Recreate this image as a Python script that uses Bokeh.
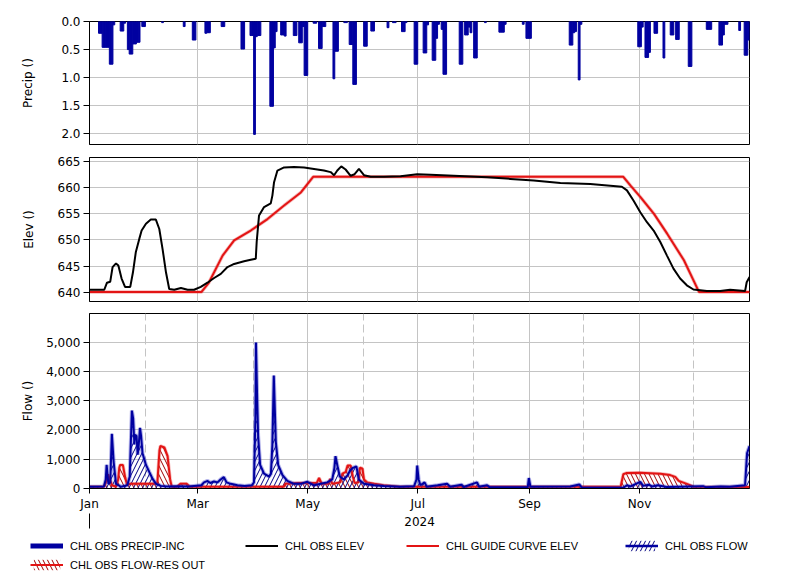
import datetime as dt
from bokeh.plotting import figure
from bokeh.layouts import column
from bokeh.models import (Range1d, MonthsTicker, FixedTicker, DatetimeTickFormatter,
                          NumeralTickFormatter, Grid, DatetimeAxis, Legend, LegendItem,
                          ColumnDataSource)
from bokeh.embed import file_html
from bokeh.resources import INLINE

YEAR_START = dt.datetime(2024, 1, 1)
RANGE_END = dt.datetime(2024, 12, 31, 23, 0)

# ---------------- data (day-of-year offsets from 2024-01-01) ----------------
precip_doy = [5, 6, 7, 8, 9, 10, 11, 12, 13, 17, 18, 19, 21, 22, 23, 24, 25, 26, 27, 29, 30,
              40, 52, 57, 58, 64, 65, 66, 73, 74, 84, 85, 89, 90, 91, 92, 93, 94,
              100, 101, 102, 103, 106, 107, 108, 113, 114, 116, 117, 118, 119, 120,
              124, 125, 127, 128, 129, 130, 135, 136, 137, 141, 142, 144, 145, 146, 147,
              152, 153, 156, 157, 165, 168, 169,
              173, 174, 175, 180, 181, 185, 186, 187, 190, 191, 192, 193, 195, 196, 197,
              205, 206, 208, 209, 210, 211, 213, 214, 219, 227, 228, 229, 230, 240,
              242, 243, 244, 266, 267, 268, 269, 271, 272,
              304, 305, 306, 308, 309, 310, 313, 314, 318, 322, 323, 325, 326, 332, 333,
              342, 343, 344, 349, 350, 351, 352, 353, 360, 363, 364, 365]
precip_in = [0.21, 0.21, 0.46, 0.46, 0.46, 0.46, 0.76, 0.76, 0.06, 0.17, 0.17, 0.03, 0.50, 0.58, 0.58, 0.40, 0.40, 0.37, 0.37, 0.09, 0.09,
             0.02, 0.09, 0.33, 0.33, 0.21, 0.20, 0.20, 0.09, 0.09, 0.49, 0.49, 0.25, 0.25, 2.01, 0.27, 0.25, 0.25,
             1.51, 1.51, 0.47, 0.18, 0.24, 0.24, 0.26, 0.25, 0.25, 0.38, 0.38, 0.09, 0.96, 0.96,
             0.03, 0.03, 0.48, 0.48, 0.09, 0.09, 1.02, 0.53, 0.53, 0.02, 0.02, 0.41, 0.41, 1.12, 1.12,
             0.44, 0.44, 0.17, 0.17, 0.11, 0.02, 0.02,
             0.18, 0.18, 0.02, 0.76, 0.76, 0.56, 0.56, 0.06, 0.69, 0.69, 0.30, 0.05, 0.14, 0.94, 0.94,
             0.76, 0.76, 0.24, 0.24, 0.10, 0.20, 0.65, 0.65, 0.02, 0.19, 0.19, 0.19, 0.05, 0.05,
             0.30, 0.30, 0.30, 0.42, 0.42, 0.20, 0.18, 1.04, 0.05,
             0.45, 0.45, 0.10, 0.64, 0.64, 0.55, 0.21, 0.21, 0.65, 0.24, 0.24, 0.32, 0.32, 0.80, 0.80,
             0.14, 0.14, 0.14, 0.42, 0.42, 0.24, 0.05, 0.05, 0.16, 0.60, 0.60, 0.33]

elev_doy = [0, 8.2, 9.7, 11.5, 12.8, 14.7, 16, 17.8, 19.7, 22.6, 24.1, 25.7, 27.6, 28.9, 31.3, 34, 36.8,
            38.7, 40.5, 42.4, 44.2, 47, 50.7, 54.4, 58, 61.7, 65.4, 69.1, 72.8, 76.5, 80.2, 85.7, 89.4,
            92.2, 92.7, 94, 96.8, 100.5, 101.4, 102.3, 104.2, 107.9, 113.4, 119, 124.5, 130, 133.7,
            135.6, 137.4, 139.6, 142, 144.8, 147, 149.4, 152.2, 155.9, 163.3, 172.5, 181.7, 189.1,
            202, 220.5, 233.4, 246.3, 261.1, 277.7, 288.8, 295.2, 298, 301.7, 305.4, 309.1, 312.8,
            316.5, 320.2, 323.8, 327.5, 331.2, 334.9, 342.3, 349.7, 355.2, 363.5, 364.4, 366]
elev_ft = [640.45, 640.45, 641.8, 642.0, 644.8, 645.5, 645.1, 642.6, 641.0, 641.0, 643.8, 647.7, 650.2,
           651.8, 653.1, 653.9, 653.9, 652.1, 648.3, 643.8, 640.6, 640.45, 640.8, 640.45, 640.45, 641.0,
           641.8, 642.7, 643.5, 644.8, 645.4, 645.9, 646.2, 646.4, 649.6, 654.7, 656.3, 657.0, 658.5,
           661.0, 663.3, 663.9, 664.0, 663.9, 663.6, 663.3, 663.0, 662.4, 663.3, 664.1, 663.5, 662.3,
           662.6, 663.6, 662.4, 662.1, 662.1, 662.2, 662.6, 662.5, 662.3, 662.0, 661.7, 661.4, 660.9,
           660.7, 660.4, 660.2, 659.5, 657.5, 655.3, 653.4, 651.8, 649.6, 647.0, 644.5, 642.6, 641.3,
           640.5, 640.2, 640.2, 640.45, 640.2, 641.9, 642.9]

guide_doy = [0, 62, 66, 73.8, 80.2, 89.4, 98.7, 107.9, 117.2, 124, 296, 300, 305.5, 313, 320.3, 329.6, 338, 366]
guide_ft = [640.0, 640.0, 641.7, 647.0, 649.9, 651.8, 654.0, 656.6, 659.1, 662.1, 662.1, 660.4, 658.2,
            655.0, 651.2, 646.1, 640.0, 640.0]

flow_doy = [0, 8, 9, 9.5, 10.5, 11.5, 12.4, 13.4, 14.7, 17.5, 21, 22.3, 23.5, 24.2, 24.9, 25.2, 26.1,
            26.7, 27.2, 28, 28.6, 29.4, 31.3, 33.2, 35, 36.9, 39.6, 43, 50, 55, 58, 62, 63.5, 65.5, 67,
            69, 71, 72.7, 74.5, 76, 78.3, 82, 86, 90, 91.2, 92, 92.3, 93, 93.5, 94.6, 96.8, 99.6, 100.6,
            101.4, 102.2, 103.3, 104.6, 107, 109.7, 113.4, 117, 120.8, 124.5, 128.2, 131.8, 134.6,
            135.8, 136.4, 137.7, 138.8, 141, 143.2, 144.4, 146.1, 148, 149.3, 152.2, 157.7, 163.3,
            172.5, 176, 180, 181.3, 181.7, 182.5, 183.5, 185.8, 187, 193, 198.3, 200, 206.3, 207.5,
            214.9, 216, 220.5, 222, 243, 243.6, 244.5, 266.6, 271.6, 273, 296, 298, 300, 305.4, 307,
            310, 312, 315, 320, 340.2, 342, 350, 355, 363.5, 364.6, 366]
flow_cfs = [50, 60, 300, 800, 150, 200, 1870, 900, 150, 50, 100, 400, 2665, 2400, 1500, 1830, 1800,
            1150, 1400, 2070, 1800, 1200, 800, 550, 320, 150, 80, 60, 70, 60, 80, 100, 200, 250, 180,
            230, 200, 300, 380, 200, 150, 100, 80, 100, 200, 2500, 5000, 3000, 1800, 800, 500, 400, 500,
            1500, 3870, 1600, 800, 450, 250, 150, 150, 220, 100, 150, 200, 300,
            700, 1100, 700, 400, 300, 450, 600, 700, 750, 300, 150, 100, 80,
            50, 60, 70, 300, 780, 300, 100, 200, 50, 100, 150, 50, 120, 40,
            200, 50, 100, 30, 30, 350, 50, 60, 130, 20, 20, 100, 60, 220, 80,
            120, 60, 100, 40, 70, 30, 60, 50, 100, 1200, 1450]

out_doy = [0, 8, 9.5, 10.3, 11, 12.5, 14.7, 15.9, 16.5, 17, 18.5, 19.7, 20.8, 22.5, 35, 37.6, 38.8,
           39.3, 41.5, 43.3, 44.7, 45.6, 48.5, 50.4, 54, 55.5, 107.8, 108.5, 116, 126, 127.3, 128.8,
           132.5, 133.5, 134.6, 139, 140.2, 142, 143.1, 144.8, 146, 147, 149.2, 149.9, 151.3, 152.2,
           154, 158, 163, 172, 294.5, 296, 297.6, 305.4, 316.5, 322, 324.8, 326.7, 331.2, 335, 366]
out_cfs = [50, 50, 250, 480, 350, 100, 50, 300, 700, 800, 800, 400, 120, 150, 150, 160, 1300,
           1450, 1400, 1100, 300, 50, 50, 150, 150, 50, 50, 150, 180, 180, 350, 150,
           150, 320, 150, 200, 500, 550, 780, 780, 400, 180, 200, 700, 680, 300,
           200, 150, 100, 50, 50, 480, 520, 530, 500, 450, 390, 250, 150, 50, 40]

precip_ticks = [0.0, 0.5, 1.0, 1.5, 2.0]
elev_ticks = [640, 645, 650, 655, 660, 665]
flow_ticks = [0, 1000, 2000, 3000, 4000, 5000]

legend_labels = ["CHL OBS PRECIP-INC", "CHL OBS ELEV", "CHL GUIDE CURVE ELEV",
                 "CHL OBS FLOW", "CHL OBS FLOW-RES OUT"]

# ---------------- style ----------------
BLUE = "#0000a0"
RED = "#e31414"
GRID = "#c4c4c4"
TICK_FONT = "DejaVu Sans"
FS = "12px"
DAY_MS = 86400000
EPOCH = dt.datetime(1970, 1, 1)


def to_dates(doys):
    return [YEAR_START + dt.timedelta(days=d) for d in doys]


def to_ms(d):
    return (d - EPOCH).total_seconds() * 1000


x_range = Range1d(start=YEAR_START, end=RANGE_END)


def make_fig(height, top, bottom, y_range, ylabel, yticks, yfmt, label_standoff):
    p = figure(width=793, height=height, x_axis_type="datetime", x_range=x_range, y_range=y_range,
               output_backend="svg", toolbar_location=None, min_border_left=89,
               min_border_right=44, min_border_top=top, min_border_bottom=bottom)
    p.outline_line_color = "black"
    p.outline_line_width = 1
    p.background_fill_color = "white"
    p.border_fill_color = "white"
    p.xaxis.ticker = MonthsTicker(months=[0, 2, 4, 6, 8, 10])
    p.xgrid.ticker = MonthsTicker(months=[0, 2, 4, 6, 8, 10])
    p.grid.grid_line_color = GRID
    p.grid.grid_line_width = 1
    p.yaxis.ticker = FixedTicker(ticks=yticks)
    p.yaxis.formatter = yfmt
    p.yaxis.major_tick_out = 6
    p.yaxis.major_tick_in = 0
    p.yaxis.minor_tick_out = 0
    p.yaxis.minor_tick_in = 0
    p.yaxis.major_label_standoff = 3
    p.yaxis.major_label_text_font = TICK_FONT
    p.yaxis.major_label_text_font_size = FS
    p.yaxis.major_label_text_color = "black"
    p.yaxis.axis_label = ylabel
    p.yaxis.axis_label_text_font = TICK_FONT
    p.yaxis.axis_label_text_font_size = FS
    p.yaxis.axis_label_text_font_style = "normal"
    p.yaxis.axis_label_text_color = "black"
    p.yaxis.axis_label_standoff = label_standoff
    p.axis.axis_line_color = "black"
    p.axis.major_tick_line_color = "black"
    p.xaxis.minor_tick_out = 0
    p.xaxis.minor_tick_in = 0
    p.xaxis.major_tick_in = 0
    return p


# ---------------- precipitation ----------------
p1 = make_fig(150, 21, 6, Range1d(2.19, 0), "Precip ()", precip_ticks,
              NumeralTickFormatter(format="0.0"), 23)
src_p = ColumnDataSource(dict(x=[YEAR_START + dt.timedelta(days=d + 0.5) for d in precip_doy],
                              v=precip_in))
p1.vbar(x="x", top=0, bottom="v", width=DAY_MS, source=src_p, fill_color=BLUE,
        line_color=BLUE, line_width=1)
p1.xaxis.visible = False

# ---------------- elevation ----------------
p2 = make_fig(157, 7, 6, Range1d(638.2, 665.8), "Elev ()", elev_ticks,
              NumeralTickFormatter(format="0"), 19)
src_g = ColumnDataSource(dict(x=to_dates(guide_doy), y=guide_ft))
src_e = ColumnDataSource(dict(x=to_dates(elev_doy), y=elev_ft))
p2.line(x="x", y="y", source=src_g, color=RED, line_width=3.5, line_alpha=0.3)
p2.line(x="x", y="y", source=src_g, color=RED, line_width=2)
p2.line(x="x", y="y", source=src_e, color="black", line_width=2)
p2.xaxis.visible = False

# ---------------- flow ----------------
p3 = make_fig(225, 6, 44, Range1d(-10, 6000), "Flow ()", flow_ticks,
              NumeralTickFormatter(format="0,0"), 8)
p3.add_layout(Grid(dimension=0, ticker=MonthsTicker(months=[1, 3, 5, 7, 9, 11]),
                   grid_line_color=GRID, grid_line_dash="8 4"))
p3.xaxis.formatter = DatetimeTickFormatter(months="%b", days="%b", years="%b")
p3.xaxis.major_label_text_font = TICK_FONT
p3.xaxis.major_label_text_font_size = FS
p3.xaxis.major_label_text_color = "black"
p3.xaxis.major_tick_out = 5
p3.xaxis.major_label_standoff = 3

src_f = ColumnDataSource(dict(x=to_dates(flow_doy), y=flow_cfs))
src_o = ColumnDataSource(dict(x=to_dates(out_doy), y=out_cfs))
OUT_AREA = dict(fill_alpha=0, hatch_pattern="\\", hatch_color="#a00000", hatch_scale=9, hatch_weight=1)
FLOW_AREA = dict(fill_alpha=0, hatch_pattern="/", hatch_color="#000080", hatch_scale=9, hatch_weight=1)
p3.varea(x="x", y1=0, y2="y", source=src_o, **OUT_AREA)
p3.varea(x="x", y1=0, y2="y", source=src_f, **FLOW_AREA)
p3.line(x="x", y="y", source=src_o, color=RED, line_width=3.5, line_alpha=0.3)
p3.line(x="x", y="y", source=src_o, color=RED, line_width=2)
p3.line(x="x", y="y", source=src_f, color="#2020c0", line_width=4, line_alpha=0.35)
p3.line(x="x", y="y", source=src_f, color=BLUE, line_width=2)

# year axis
yr_formats = {k: "%Y" for k in ["microseconds", "milliseconds", "seconds", "minsec", "minutes",
                                 "hourmin", "hours", "days", "months", "years"]}
year_axis = DatetimeAxis(
    ticker=FixedTicker(ticks=[to_ms(dt.datetime(2024, 7, 2))], minor_ticks=[to_ms(YEAR_START)]),
    formatter=DatetimeTickFormatter(**yr_formats),
    axis_line_color=None, major_tick_out=0, major_tick_in=0, minor_tick_out=15, minor_tick_in=0,
    minor_tick_line_color="black", major_label_standoff=-12, major_label_text_font=TICK_FONT,
    major_label_text_font_size=FS, major_label_text_color="black")
p3.add_layout(year_axis, "below")

# ---------------- legend strip ----------------
pl = figure(width=793, height=40, x_range=Range1d(0, 1), y_range=Range1d(0, 1),
            x_axis_type=None, y_axis_type=None, output_backend="svg", toolbar_location=None,
            min_border=0, outline_line_color=None, frame_align=False)
pl.background_fill_color = "white"
pl.border_fill_color = "white"
# legend proxies: same data, hidden (only their legend glyphs are drawn)
g_precip = pl.line(x="x", y="v", source=src_p, color=BLUE, line_width=5, visible=False)
g_elev = pl.line(x="x", y="y", source=src_e, color="black", line_width=2, visible=False)
g_guide = pl.line(x="x", y="y", source=src_g, color=RED, line_width=2, visible=False)
g_flow = [pl.varea(x="x", y1=0, y2="y", source=src_f, visible=False, **FLOW_AREA),
          pl.line(x="x", y="y", source=src_f, color=BLUE, line_width=2.5, visible=False)]
g_out = [pl.varea(x="x", y1=0, y2="y", source=src_o, visible=False, **OUT_AREA),
         pl.line(x="x", y="y", source=src_o, color=RED, line_width=2, visible=False)]

legend_defs = [
    (legend_labels[0], [g_precip], (30, 20)),
    (legend_labels[1], [g_elev], (245, 20)),
    (legend_labels[2], [g_guide], (406, 20)),
    (legend_labels[3], g_flow, (625, 20)),
    (legend_labels[4], g_out, (30, 1)),
]
for label, rends, loc in legend_defs:
    lg = Legend(items=[LegendItem(label=label, renderers=rends)], location=loc,
                orientation="horizontal", margin=0, padding=0, spacing=0,
                glyph_width=33, glyph_height=13, label_height=13, label_standoff=7,
                label_text_font="Liberation Sans", label_text_font_size="11px",
                label_text_color="black", border_line_color=None, background_fill_alpha=0,
                click_policy="none")
    pl.add_layout(lg, "center")

layout = column(p1, p2, p3, pl)
open("out.html", "w").write(file_html(layout, INLINE))
